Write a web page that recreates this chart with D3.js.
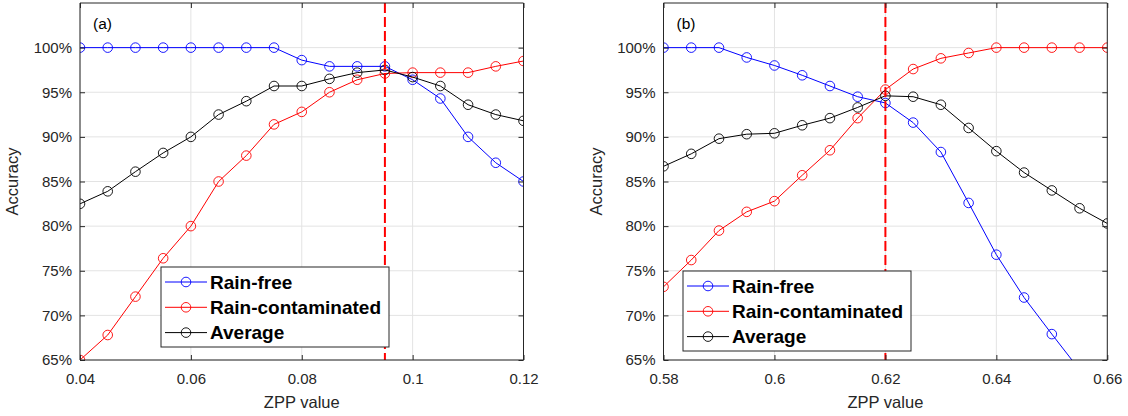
<!DOCTYPE html>
<html>
<head>
<meta charset="utf-8">
<script src="https://cdn.jsdelivr.net/npm/d3@7"></script>
<style>
  body { margin: 0; background: #fff; }
  svg { font-family: "Liberation Sans", Arial, Helvetica, sans-serif; }
</style>
</head>
<body>
<svg width="1128" height="416"></svg>
<script>
// panel (a) values
const zppA = [0.04, 0.045, 0.05, 0.055, 0.06, 0.065, 0.07, 0.075, 0.08, 0.085, 0.09, 0.095, 0.1, 0.105, 0.11, 0.115, 0.12];
const rainFreeA = [100, 100, 100, 100, 100, 100, 100, 100, 98.6, 97.9, 97.9, 97.9, 96.4, 94.3, 90.0, 87.1, 85.0];
const rainContA = [65.0, 67.8, 72.1, 76.4, 80.0, 85.0, 87.9, 91.4, 92.8, 95.0, 96.4, 97.1, 97.2, 97.2, 97.2, 97.9, 98.5];
const averageA = [82.5, 83.9, 86.1, 88.2, 90.0, 92.5, 94.0, 95.7, 95.7, 96.5, 97.2, 97.5, 96.7, 95.7, 93.6, 92.5, 91.8];
const thresholdA = 0.095;
const xTicksA = [0.04, 0.06, 0.08, 0.1, 0.12];
const xLabelsA = ["0.04", "0.06", "0.08", "0.1", "0.12"];

// panel (b) values
const zppB = [0.58, 0.585, 0.59, 0.595, 0.6, 0.605, 0.61, 0.615, 0.62, 0.625, 0.63, 0.635, 0.64, 0.645, 0.65, 0.655, 0.66];
const rainFreeB = [100, 100, 100, 98.9, 98.0, 96.9, 95.7, 94.5, 93.8, 91.6, 88.3, 82.6, 76.8, 72.0, 67.9, 63.9, 59.8];
const rainContB = [73.2, 76.2, 79.5, 81.6, 82.8, 85.7, 88.5, 92.1, 95.3, 97.6, 98.8, 99.4, 100, 100, 100, 100, 100];
const averageB = [86.7, 88.1, 89.8, 90.3, 90.4, 91.3, 92.1, 93.3, 94.6, 94.5, 93.6, 91.0, 88.4, 86.0, 84.0, 82.0, 80.3];
const thresholdB = 0.62;
const xTicksB = [0.58, 0.6, 0.62, 0.64, 0.66];
const xLabelsB = ["0.58", "0.6", "0.62", "0.64", "0.66"];

const yTicks = [65, 70, 75, 80, 85, 90, 95, 100];
const seriesNames = ["Rain-free", "Rain-contaminated", "Average"];
const seriesColors = ["#0000ff", "#ff0000", "#000000"];

const axisColor = "#262626";
const gridColor = "#e3e3e3";

const svg = d3.select("svg");

function drawPanel(opts) {
  const { id, left, right, xDomain, xs, series, threshold, xTicks, xLabels, tag, legendBox } = opts;
  const top = 3, bottom = 360;

  const x = d3.scaleLinear().domain(xDomain).range([left, right]);
  const y = d3.scaleLinear().domain([65, 105]).range([bottom, top]);

  const g = svg.append("g");

  g.append("clipPath").attr("id", "clip" + id)
    .append("rect")
    .attr("x", left).attr("y", top)
    .attr("width", right - left).attr("height", bottom - top);

  // grid
  g.append("g")
    .selectAll("line")
    .data(xTicks)
    .enter().append("line")
    .attr("x1", d => x(d)).attr("x2", d => x(d))
    .attr("y1", top).attr("y2", bottom)
    .attr("stroke", gridColor);
  g.append("g")
    .selectAll("line")
    .data(yTicks)
    .enter().append("line")
    .attr("x1", left).attr("x2", right)
    .attr("y1", d => y(d)).attr("y2", d => y(d))
    .attr("stroke", gridColor);

  // data
  const plot = g.append("g").attr("clip-path", `url(#clip${id})`);
  const line = d3.line().x(d => x(d[0])).y(d => y(d[1]));
  series.forEach((vals, i) => {
    const pts = xs.map((v, j) => [v, vals[j]]);
    plot.append("path")
      .datum(pts)
      .attr("d", line)
      .attr("fill", "none")
      .attr("stroke", seriesColors[i])
      .attr("stroke-width", 1);
    plot.selectAll(null)
      .data(pts)
      .enter().append("circle")
      .attr("cx", d => x(d[0]))
      .attr("cy", d => y(d[1]))
      .attr("r", 4.8)
      .attr("fill", "none")
      .attr("stroke", seriesColors[i])
      .attr("stroke-width", 0.9);
  });

  // threshold
  g.append("line")
    .attr("x1", x(threshold)).attr("x2", x(threshold))
    .attr("y1", top).attr("y2", bottom)
    .attr("stroke", "#ff0000")
    .attr("stroke-width", 2)
    .attr("stroke-dasharray", "10,4");

  // axes (ticks inward on all four sides)
  const fmtY = d => d + "%";
  const axB = g.append("g").attr("transform", `translate(0,${bottom})`)
    .call(d3.axisBottom(x).tickValues(xTicks).tickSize(-5).tickPadding(13)
      .tickFormat((d, i) => xLabels[i]));
  const axT = g.append("g").attr("transform", `translate(0,${top})`)
    .call(d3.axisTop(x).tickValues(xTicks).tickSize(-5).tickFormat(""));
  const axL = g.append("g").attr("transform", `translate(${left},0)`)
    .call(d3.axisLeft(y).tickValues(yTicks).tickSize(-5).tickPadding(8).tickFormat(fmtY));
  const axR = g.append("g").attr("transform", `translate(${right},0)`)
    .call(d3.axisRight(y).tickValues(yTicks).tickSize(-5).tickFormat(""));
  [axB, axT, axL, axR].forEach(a => {
    a.select(".domain").attr("stroke", axisColor).attr("stroke-width", 1);
    a.selectAll(".tick line").attr("stroke", axisColor);
    a.selectAll("text").attr("fill", axisColor).style("font-size", "15px")
      .style("font-family", '"Liberation Sans", Arial, sans-serif');
  });
  axL.select(".domain").attr("d", `M0,${top}V${bottom}`);
  axR.select(".domain").attr("d", `M0,${top}V${bottom}`);
  axB.select(".domain").attr("d", `M${left},0H${right}`);
  axT.select(".domain").attr("d", `M${left},0H${right}`);

  // labels
  g.append("text")
    .attr("x", (left + right) / 2).attr("y", 408)
    .attr("text-anchor", "middle")
    .attr("fill", axisColor)
    .style("font-size", "16.5px")
    .text("ZPP value");
  g.append("text")
    .attr("transform", `translate(${left - 62},${(top + bottom) / 2}) rotate(-90)`)
    .attr("text-anchor", "middle")
    .attr("fill", axisColor)
    .style("font-size", "16.5px")
    .text("Accuracy");
  g.append("text")
    .attr("x", left + 13).attr("y", 29)
    .attr("fill", "#000")
    .style("font-size", "15.5px")
    .text(tag);

  // legend
  const lg = g.append("g").attr("transform", `translate(${legendBox[0]},${legendBox[1]})`);
  lg.append("rect")
    .attr("width", 228).attr("height", 80)
    .attr("fill", "#fff")
    .attr("stroke", axisColor)
    .attr("stroke-width", 1);
  seriesNames.forEach((name, i) => {
    const yy = 15 + i * 25.3;
    lg.append("line")
      .attr("x1", 4).attr("x2", 46)
      .attr("y1", yy).attr("y2", yy)
      .attr("stroke", seriesColors[i]);
    lg.append("circle")
      .attr("cx", 25).attr("cy", yy).attr("r", 4.8)
      .attr("fill", "none")
      .attr("stroke", seriesColors[i])
      .attr("stroke-width", 0.9);
    lg.append("text")
      .attr("x", 49).attr("y", yy + 6.8)
      .attr("fill", "#000")
      .style("font-size", "19px")
      .style("font-weight", "bold")
      .text(name);
  });
}

drawPanel({
  id: "a", left: 80, right: 523.5, xDomain: [0.04, 0.12], xs: zppA,
  series: [rainFreeA, rainContA, averageA], threshold: thresholdA,
  xTicks: xTicksA, xLabels: xLabelsA, tag: "(a)", legendBox: [161, 267]
});
drawPanel({
  id: "b", left: 663.5, right: 1107.3, xDomain: [0.58, 0.66], xs: zppB,
  series: [rainFreeB, rainContB, averageB], threshold: thresholdB,
  xTicks: xTicksB, xLabels: xLabelsB, tag: "(b)", legendBox: [683, 271]
});
</script>
</body>
</html>
